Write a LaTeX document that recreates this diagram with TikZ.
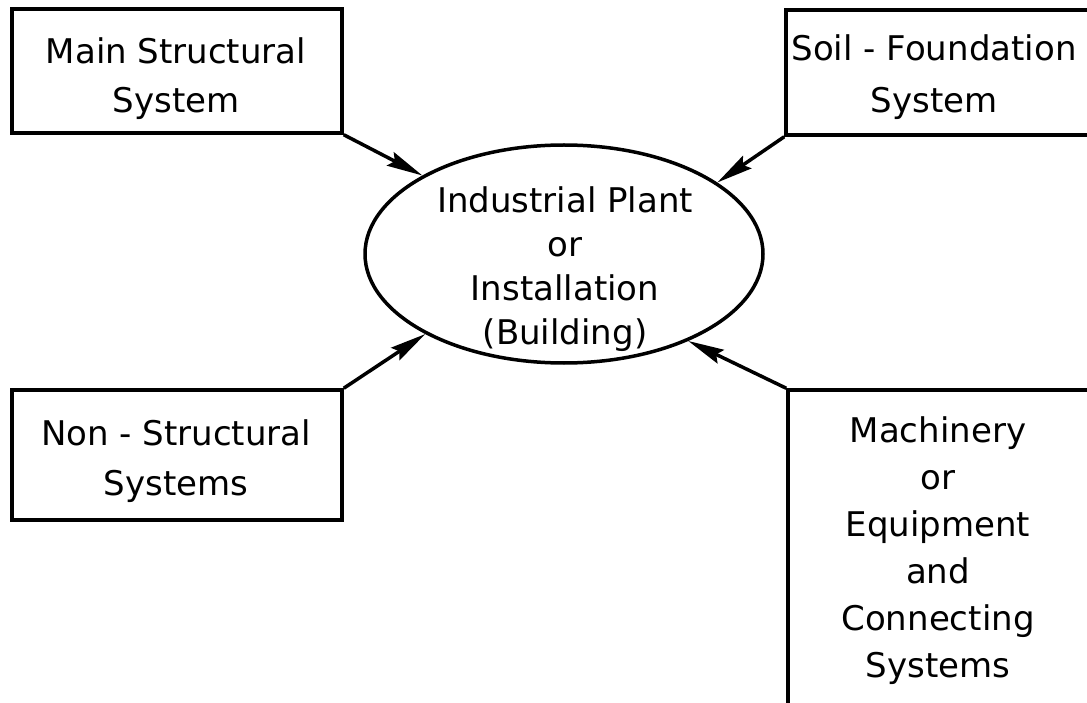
\documentclass[tikz,border=0pt]{standalone}
\usepackage{fontspec}
\setmainfont{DejaVu Sans}
\usetikzlibrary{arrows.meta,shapes.geometric}
\begin{document}
\begin{tikzpicture}[x=1pt,y=-1pt,
  box/.style={draw, line width=3.5pt, rectangle, inner sep=0pt},
  lbl/.style={font=\fontsize{34}{#1}\selectfont, align=center, inner sep=0pt, anchor=north},
  arr/.style={line width=3.5pt, -{Stealth[length=36pt,width=15pt,inset=5pt]}},
]
\clip (0,0) rectangle (1087,703);
\fill[white] (0,0) rectangle (1087,703);
% boxes
\node[box, minimum width=330pt, minimum height=124pt] (main) at (177,71) {};
\node[box, minimum width=324pt, minimum height=125pt] (soil) at (948,72.5) {};
\node[box, minimum width=330pt, minimum height=130pt] (non) at (177,455) {};
\node[box, minimum width=322pt, minimum height=350pt] (mach) at (949,565) {};
\node[draw, ellipse, line width=3.5pt, inner sep=0pt, minimum width=398pt, minimum height=218pt] (plant) at (564,254) {};
% texts
\node[lbl=49] (maint) at (176,37) {Main Structural\\System};
\node[lbl=52] (soilt) at (934,34) {Soil - Foundation\\System};
\node[lbl=50] (nont) at (176,419) {Non - Structural\\Systems};
\node[lbl=44] (plantt) at (565,186) {Industrial Plant\\or\\Installation\\(Building)};
\node[lbl=47] (macht) at (938,416) {Machinery\\or\\Equipment\\and\\Connecting\\Systems};
% arrows
\draw[arr] (main.south east) -- (plant.151.5);
\draw[arr] (soil.south west) -- (plant.25);
\draw[arr] (non.north east) -- (plant.210.6);
\draw[arr] (mach.north west) -- (plant.325.7);
\end{tikzpicture}
\end{document}
